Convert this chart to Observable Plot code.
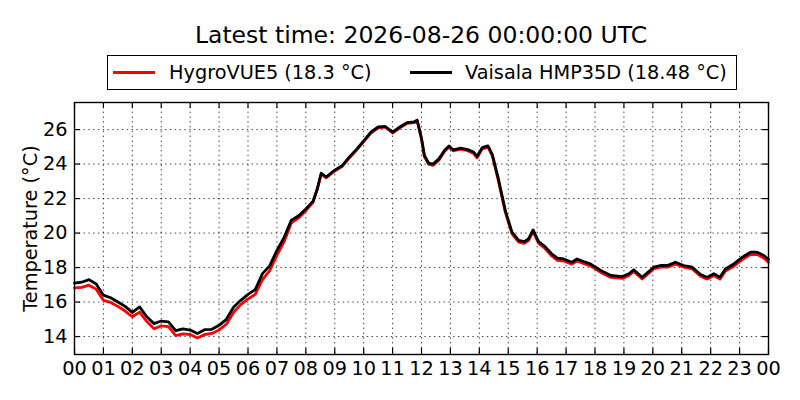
<!DOCTYPE html>
<html>
<head>
<meta charset="utf-8">
<script src="https://cdn.jsdelivr.net/npm/d3@7"></script>
<script src="https://cdn.jsdelivr.net/npm/@observablehq/plot@0.6"></script>
<style>
  html, body { margin: 0; padding: 0; background: #fff; }
  #wrap { position: relative; width: 800px; height: 400px; font-family: "DejaVu Sans", sans-serif; color: #000; }
  #title { position: absolute; left: 74px; top: 21px; width: 694px; text-align: center; font-size: 23.5px; line-height: 28px; white-space: nowrap; }
  #legend { position: absolute; left: 107px; top: 55px; width: 628px; height: 33px; border: 1.4px solid #000; font-size: 19.3px; line-height: 33px; white-space: nowrap; box-sizing: content-box; }
  .entry { position: absolute; top: 0; }
  .swatch { position: absolute; top: 15px; height: 3px; width: 42px; }
  #chart { position: absolute; left: 0; top: 95px; }
</style>
</head>
<body>
<div id="wrap">
  <div id="title"></div>
  <div id="legend"></div>
  <div id="chart"></div>
</div>
<script>
const titleText = "Latest time: 2026-08-26 00:00:00 UTC";
const yLabel = "Temperature (°C)";
const seriesNames = ["HygroVUE5 (18.3 °C)", "Vaisala HMP35D (18.48 °C)"];
const seriesColors = ["#ff0000", "#000000"];
const xTicks = d3.range(0, 25);
const yTicks = [14, 16, 18, 20, 22, 24, 26];

const hours = [0,0.25,0.5,0.75,1,1.25,1.5,1.75,2,2.25,2.5,2.75,3,3.25,3.5,3.75,4,4.25,4.5,4.75,5,5.25,5.5,5.75,6,6.25,6.5,6.75,7,7.25,7.5,7.75,8,8.25,8.4,8.53,8.7,9,9.25,9.5,9.75,10,10.25,10.5,10.75,11,11.25,11.5,11.75,11.85,12,12.1,12.25,12.4,12.6,12.8,12.95,13.1,13.35,13.6,13.8,13.92,14.1,14.3,14.45,14.65,14.9,15.13,15.36,15.55,15.7,15.86,16.05,16.25,16.5,16.7,16.92,17.2,17.38,17.6,17.84,18.2,18.55,18.95,19.17,19.34,19.63,20.03,20.26,20.5,20.78,21.07,21.36,21.65,21.88,22.11,22.32,22.51,22.8,23.09,23.38,23.61,23.84,24];

const vaisala = [17.10,17.15,17.30,17.05,16.40,16.25,16.00,15.75,15.40,15.72,15.15,14.75,14.90,14.85,14.35,14.45,14.38,14.18,14.40,14.42,14.65,15.00,15.70,16.10,16.45,16.72,17.65,18.10,19.00,19.75,20.75,21.00,21.40,21.85,22.60,23.47,23.25,23.65,23.90,24.40,24.85,25.35,25.85,26.15,26.18,25.85,26.15,26.40,26.45,26.55,25.50,24.50,24.05,24.00,24.30,24.80,25.05,24.82,24.92,24.84,24.70,24.45,24.95,25.05,24.55,23.20,21.30,20.05,19.57,19.50,19.66,20.18,19.50,19.25,18.80,18.55,18.50,18.31,18.50,18.35,18.21,17.83,17.54,17.48,17.64,17.87,17.44,18.02,18.12,18.12,18.31,18.12,18.02,17.60,17.44,17.64,17.44,17.92,18.21,18.60,18.89,18.89,18.70,18.48];

const hygrovue = [16.82,16.85,16.98,16.75,16.10,15.98,15.75,15.48,15.15,15.42,14.88,14.45,14.62,14.58,14.06,14.15,14.12,13.92,14.12,14.18,14.38,14.72,15.40,15.85,16.18,16.45,17.30,17.82,18.72,19.50,20.60,20.88,21.30,21.78,22.55,23.42,23.20,23.60,23.85,24.35,24.80,25.30,25.80,26.10,26.14,25.80,26.10,26.36,26.40,26.50,25.44,24.42,23.98,23.92,24.22,24.74,24.98,24.76,24.86,24.78,24.62,24.36,24.88,24.98,24.48,23.10,21.20,19.95,19.48,19.40,19.56,20.08,19.40,19.14,18.68,18.42,18.38,18.20,18.38,18.24,18.10,17.72,17.43,17.37,17.54,17.78,17.34,17.92,18.02,18.02,18.20,18.02,17.92,17.50,17.33,17.54,17.33,17.80,18.08,18.46,18.75,18.76,18.56,18.30];

const rowsH = hours.map((h, i) => ({h, v: hygrovue[i]})).filter(d => d.v != null);
const rowsV = hours.map((h, i) => ({h, v: vaisala[i]})).filter(d => d.v != null);

document.getElementById("title").textContent = titleText;

// legend
const legend = document.getElementById("legend");
const entryLayout = [{sw: 5, tx: 61}, {sw: 302, tx: 357}];
seriesNames.forEach((name, i) => {
  const sw = document.createElement("div");
  sw.className = "swatch";
  sw.style.left = entryLayout[i].sw + "px";
  sw.style.background = seriesColors[i];
  legend.appendChild(sw);
  const tx = document.createElement("div");
  tx.className = "entry";
  tx.style.left = entryLayout[i].tx + "px";
  tx.textContent = name;
  legend.appendChild(tx);
});

const W = 800, H = 305, mT = 7, mB = 46, mL = 74, mR = 32;
const innerH = H - mT - mB, innerW = W - mL - mR;
const grid = {stroke: "#000", strokeWidth: 0.9, strokeDasharray: "1.4,3.4", strokeOpacity: 0.85};

const chart = Plot.plot({
  width: W, height: H,
  marginTop: mT, marginBottom: mB, marginLeft: mL, marginRight: mR,
  style: {fontFamily: "DejaVu Sans", fontSize: "19.3px", color: "#000", background: "transparent", overflow: "visible"},
  x: {domain: [0, 24], ticks: xTicks, tickFormat: d => String(d % 24).padStart(2, "0")},
  y: {domain: [12.96, 27.57], ticks: yTicks},
  marks: [
    Plot.ruleX(xTicks.slice(1, -1), {x: d => d, ...grid}),
    Plot.ruleY(yTicks, {y: d => d, ...grid}),
    Plot.line(rowsH, {x: "h", y: "v", stroke: seriesColors[0], strokeWidth: 2.8, strokeLinejoin: "round"}),
    Plot.line(rowsV, {x: "h", y: "v", stroke: seriesColors[1], strokeWidth: 2.8, strokeLinejoin: "round"}),
    Plot.tickX(xTicks, {x: d => d, insetTop: innerH - 6, stroke: "#000", strokeWidth: 1.2}),
    Plot.tickX(xTicks, {x: d => d, insetBottom: innerH - 6, stroke: "#000", strokeWidth: 1.2}),
    Plot.tickY(yTicks, {y: d => d, insetRight: innerW - 6, stroke: "#000", strokeWidth: 1.2}),
    Plot.tickY(yTicks, {y: d => d, insetLeft: innerW - 6, stroke: "#000", strokeWidth: 1.2}),
    Plot.frame({stroke: "#000", strokeWidth: 1.4}),
    Plot.axisX({ticks: xTicks, tickSize: 0, tickPadding: 7, label: null, tickFormat: d => String(d % 24).padStart(2, "0")}),
    Plot.axisY({ticks: yTicks, tickSize: 0, tickPadding: 7, label: null}),
    Plot.text([yLabel], {text: d => d, frameAnchor: "left", textAnchor: "middle", lineAnchor: "middle", rotate: -90, dx: -44, fontSize: 19.3, fill: "#000"})
  ]
});
document.getElementById("chart").appendChild(chart);
</script>
</body>
</html>
